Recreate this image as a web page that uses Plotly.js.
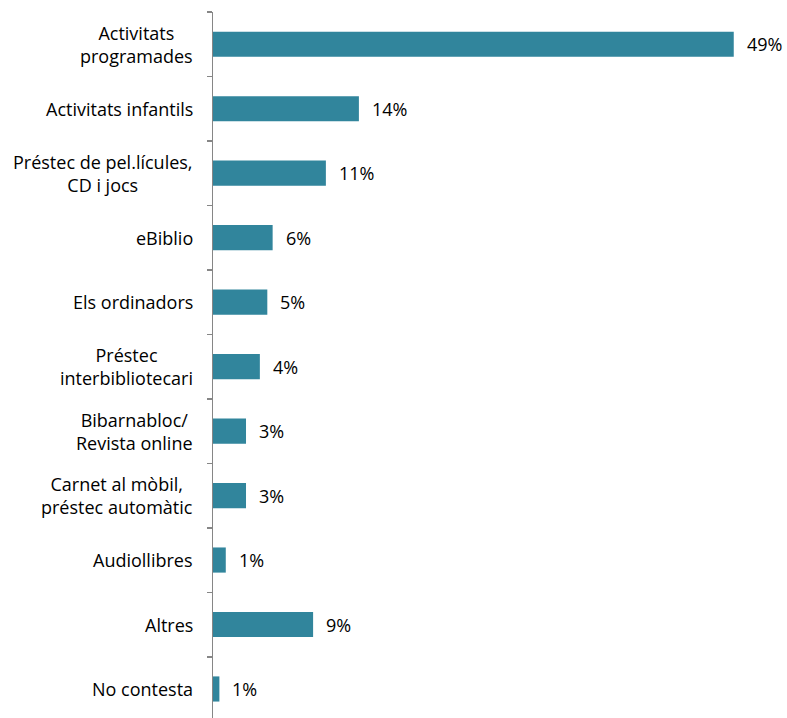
<!DOCTYPE html>
<html><head><meta charset="utf-8">
<script src="https://cdn.plot.ly/plotly-3.0.1.min.js"></script>
<style>body{margin:0;padding:0;background:#fff}#chart{width:787px;height:718px}</style>
</head><body><div id="chart"></div>
<script>
const categories = ["Activitats<br>programades", "Activitats infantils", "Préstec de pel.lícules,<br>CD i jocs", "eBiblio", "Els ordinadors", "Préstec<br>interbibliotecari", "Bibarnabloc/<br>Revista online", "Carnet al mòbil,<br>préstec automàtic", "Audiollibres", "Altres", "No contesta"];
const values = [48.9, 13.7, 10.6, 5.6, 5.1, 4.4, 3.1, 3.1, 1.2, 9.4, 0.6];
const labels = ["49%", "14%", "11%", "6%", "5%", "4%", "3%", "3%", "1%", "9%", "1%"];
const barColor = "#31859C";
const fontFam = "Open Sans, sans-serif";

const trace = {
  type: "bar", orientation: "h",
  x: values, y: categories,
  marker: {color: barColor, line: {width: 0}},
  hoverinfo: "none"
};
const valueAnn = values.map((v, i) => ({
  x: v, y: categories[i], xref: "x", yref: "y",
  text: labels[i], showarrow: false, xanchor: "left", xshift: 11,
  font: {family: fontFam, size: 18, color: "#000"}
}));
const catAnn = categories.map((c) => ({
  x: 0, y: c, xref: "paper", yref: "y",
  text: c, showarrow: false, xanchor: "right", xshift: -18, align: "center",
  font: {family: fontFam, size: 18, color: "#000"}
}));
const layout = {
  width: 787, height: 718,
  margin: {l: 213, r: 0, t: 12, b: 0},
  paper_bgcolor: "#fff", plot_bgcolor: "#fff",
  bargap: 0.61,
  showlegend: false,
  font: {family: fontFam, size: 18, color: "#000"},
  xaxis: {range: [0, 53.9], visible: false, fixedrange: true},
  yaxis: {
    type: "category", range: [10.45, -0.5],
    showline: true, linecolor: "#868686", linewidth: 1.5,
    ticks: "outside", ticklen: 5, tickcolor: "#868686", tickwidth: 1.5,
    tickson: "boundaries", showgrid: false, zeroline: false,
    showticklabels: false
  },
  annotations: valueAnn.concat(catAnn)
};
Plotly.newPlot("chart", [trace], layout, {displayModeBar: false, staticPlot: true});
</script></body></html>
